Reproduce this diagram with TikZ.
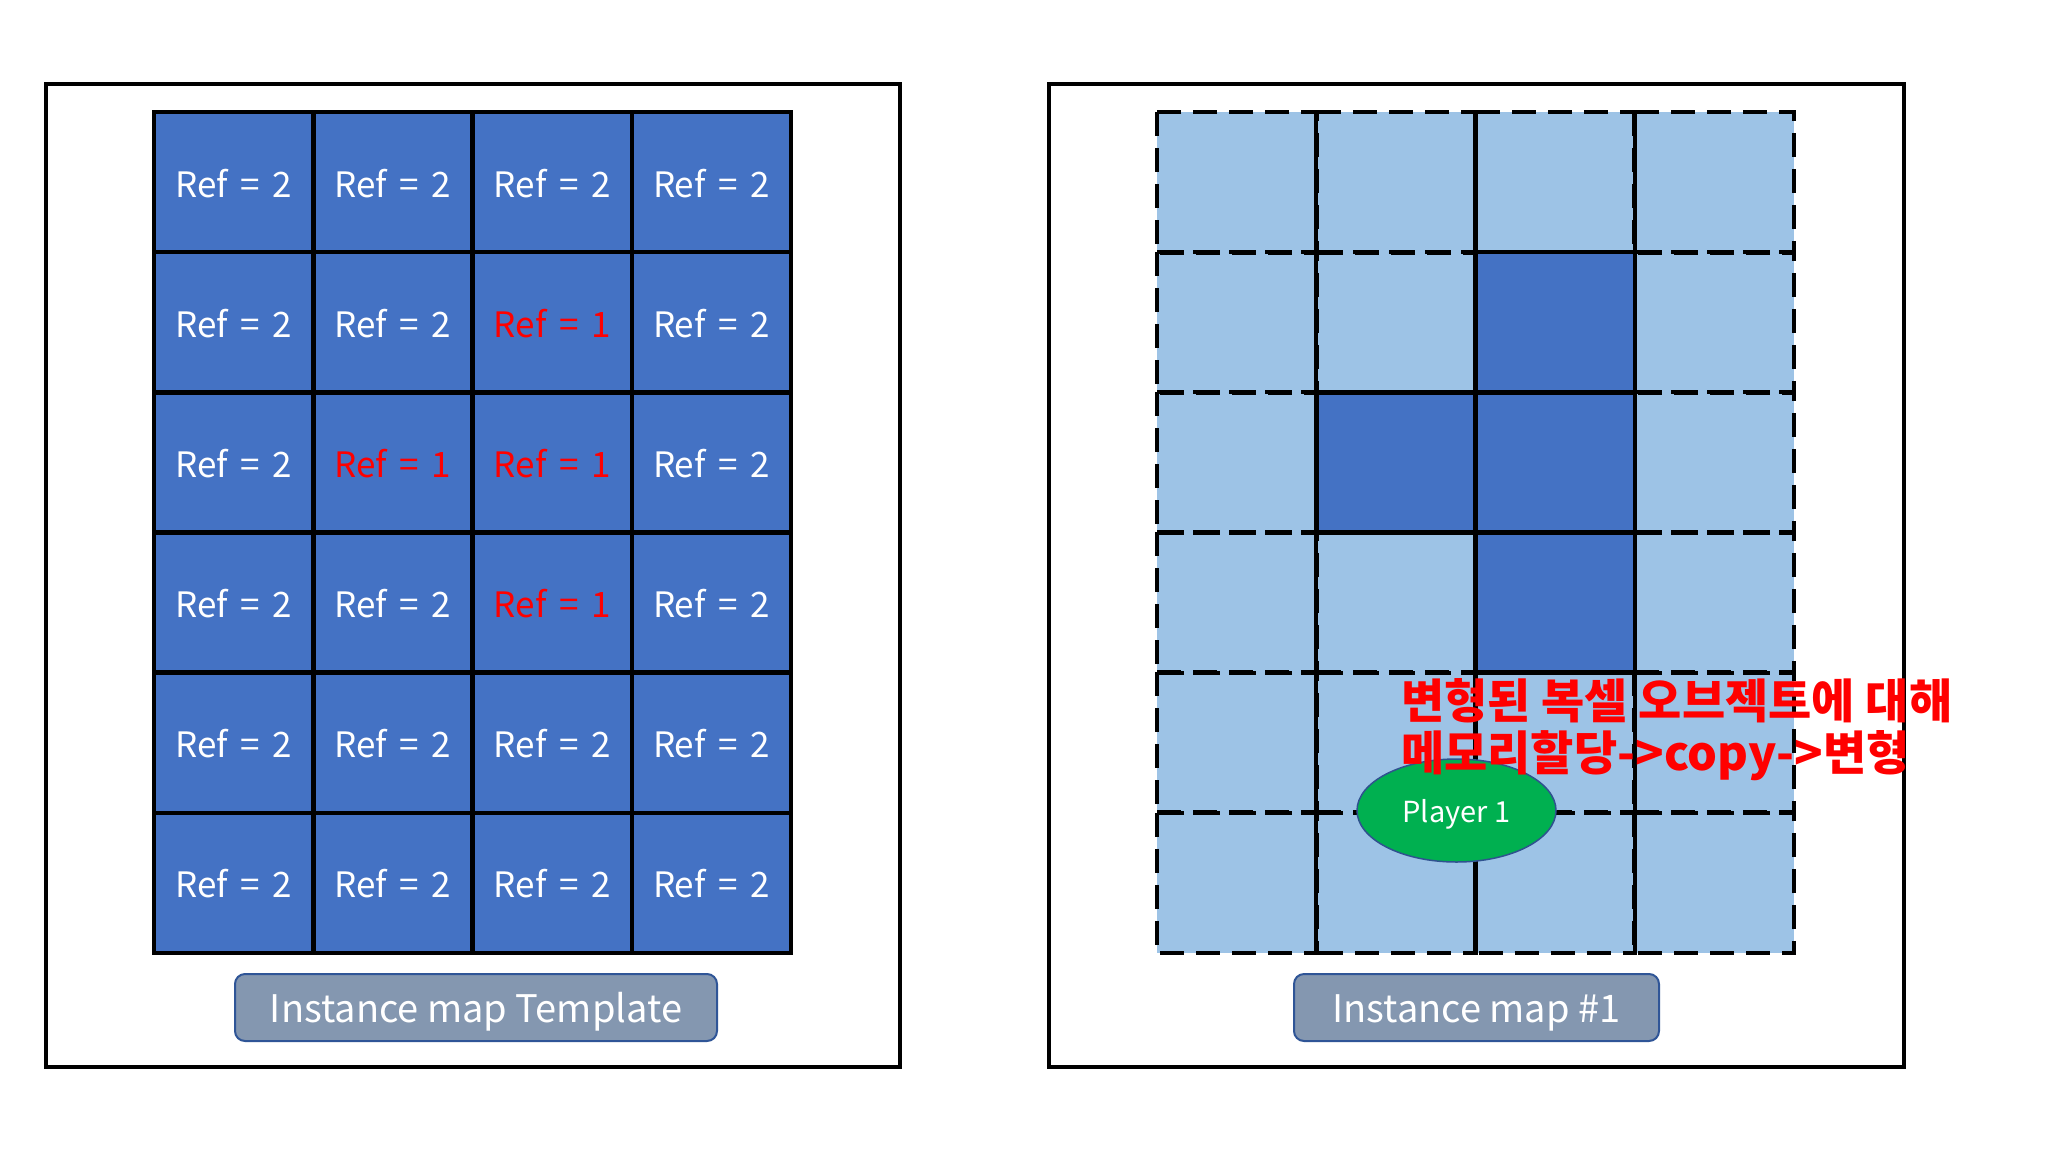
\documentclass[tikz,border=0pt]{standalone}
\usepackage{fontspec}
\setmainfont{Noto Sans CJK KR}
\newfontfamily\krfont{Noto Sans CJK KR}
\usetikzlibrary{shapes.geometric}
\definecolor{dblue}{HTML}{4472C4}
\definecolor{lblue}{HTML}{9DC3E6}
\definecolor{lboxfill}{HTML}{8497B0}
\definecolor{lboxline}{HTML}{2F5597}
\definecolor{pgreen}{HTML}{00B050}
\definecolor{pline}{HTML}{2F528F}
\definecolor{pred}{HTML}{FF0000}
\newcommand{\refsp}{\hspace{0.36em}}
\tikzset{
  frame/.style={draw=black, line width=4pt},
  lcell/.style={draw=black, line width=4.5pt, fill=dblue, minimum width=159.25pt, minimum height=140.17pt, inner sep=0pt, font=\fontsize{35}{38}\selectfont},
  rcellfill/.style={fill=lblue, minimum width=159.25pt, minimum height=140.17pt, inner sep=0pt},
  rcelldark/.style={draw=black, line width=4.5pt, fill=dblue, minimum width=159.25pt, minimum height=140.17pt, inner sep=0pt},
  dashcell/.style={draw=black, line width=4.5pt, dash pattern=on 24pt off 12pt},
  labelbox/.style={draw=lboxline, line width=2pt, fill=lboxfill, rounded corners=10pt, minimum height=67pt, inner sep=0pt, text=white, font=\fontsize{38}{42}\selectfont},
  player/.style={ellipse, draw=pline, line width=1.5pt, fill=pgreen, minimum width=199pt, minimum height=103pt, inner sep=0pt, text=white, font=\fontsize{29}{32}\selectfont},
  note/.style={text=pred, inner sep=0pt, font=\krfont\bfseries\fontsize{47}{49}\selectfont}
}
\begin{document}
\begin{tikzpicture}[x=1pt,y=-1pt]
\useasboundingbox[fill=white] (0,0) rectangle (2048,1152);
% frames
\node[frame, minimum width=854pt, minimum height=983pt, inner sep=0pt] (frameL) at (473,575.5) {};
\node[frame, minimum width=855pt, minimum height=983pt, inner sep=0pt] (frameR) at (1476.5,575.5) {};
% left grid
\foreach \r in {0,...,5}{\foreach \c in {0,...,3}{
  \pgfmathtruncatemacro{\isred}{(\r==1&&\c==2)||(\r==2&&\c==1)||(\r==2&&\c==2)||(\r==3&&\c==2)}
  \ifnum\isred=1 \def\tc{pred}\def\num{1}\else\def\tc{white}\def\num{2}\fi
  \node[lcell, text=\tc] (L-\r-\c) at ({154+159.25*(\c+0.5)},{112+140.17*(\r+0.5)}) {\raisebox{-15pt}[0pt][0pt]{Ref\refsp=\refsp\num}};
}}
% right grid fills
\foreach \r in {0,...,5}{\foreach \c in {0,...,3}{
  \node[rcellfill] (R-\r-\c) at ({1157+159.25*(\c+0.5)},{112+140.17*(\r+0.5)}) {};
}}
% right grid dashed borders
\foreach \r in {0,...,5}{\foreach \c in {0,...,3}{
  \draw[dashcell] (R-\r-\c.north west) rectangle (R-\r-\c.south east);
}}
% modified cells
\foreach \r/\c in {1/2,2/1,2/2,3/2}{
  \node[rcelldark] (D-\r-\c) at (R-\r-\c) {};
}
% labels
\node[labelbox, minimum width=482pt] (labL) at (476,1007.5) {\raisebox{-15pt}[0pt][0pt]{Instance map Template}};
\node[labelbox, minimum width=365pt] (labR) at (1476.5,1007.5) {\raisebox{-15pt}[0pt][0pt]{Instance map \#1}};
% player
\node[player] (p1) at (1456.5,810.5) {\raisebox{-11.5pt}[0pt][0pt]{Player 1}};
% note
\node[note, anchor=base west] (n1) at (1401,718) {변형된 복셀 오브젝트에 대해};
\node[note, anchor=base west] (n2) at (1401,770) {메모리할당->copy->변형};
\end{tikzpicture}
\end{document}
